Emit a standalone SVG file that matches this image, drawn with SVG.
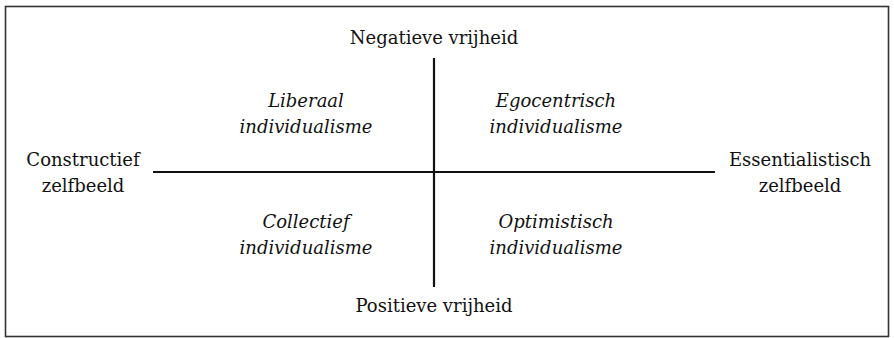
<svg xmlns="http://www.w3.org/2000/svg" width="894" height="338" viewBox="0 0 894 338">
<style>
.t{font-family:"DejaVu Serif","Liberation Serif",serif;font-size:18px;fill:#111;text-anchor:middle}
.i{font-style:italic}
.ax{stroke:#111;stroke-width:2.2;fill:none}
</style>
<rect x="0" y="0" width="894" height="338" fill="#fff"/>
<rect x="5.5" y="6.5" width="883" height="330" fill="none" stroke="#333" stroke-width="1.6"/>
<g id="connectors">
<line class="ax" x1="434" y1="58" x2="434" y2="287"/>
<line class="ax" x1="153" y1="172" x2="715" y2="172"/>
</g>
<g id="top"><text class="t" x="434" y="44">Negatieve vrijheid</text></g>
<g id="bottom"><text class="t" x="434" y="312">Positieve vrijheid</text></g>
<g id="left"><text class="t" x="83" y="166">Constructief</text><text class="t" x="83" y="192">zelfbeeld</text></g>
<g id="right"><text class="t" x="800" y="166">Essentialistisch</text><text class="t" x="800" y="192">zelfbeeld</text></g>
<g id="q1"><text class="t i" x="306" y="107">Liberaal</text><text class="t i" x="306" y="133">individualisme</text></g>
<g id="q2"><text class="t i" x="556" y="107">Egocentrisch</text><text class="t i" x="556" y="133">individualisme</text></g>
<g id="q3"><text class="t i" x="306" y="228">Collectief</text><text class="t i" x="306" y="254">individualisme</text></g>
<g id="q4"><text class="t i" x="556" y="228">Optimistisch</text><text class="t i" x="556" y="254">individualisme</text></g>
</svg>
